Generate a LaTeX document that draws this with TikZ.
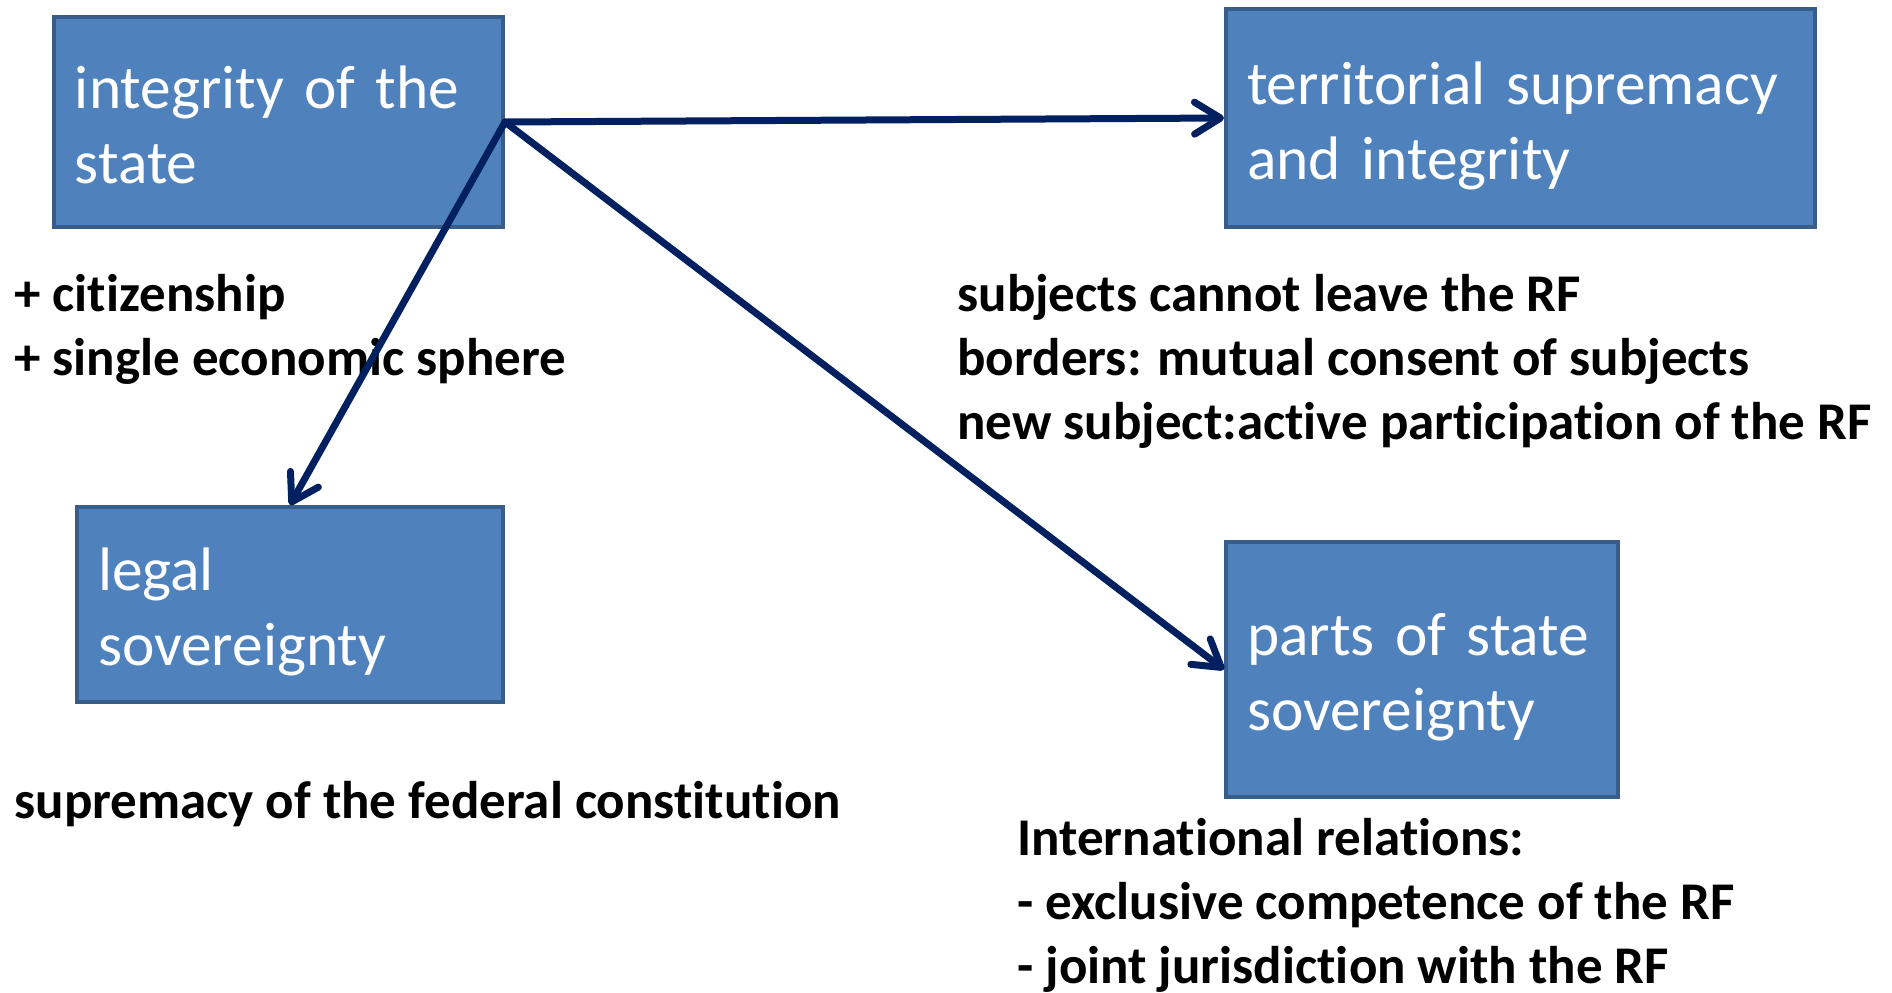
\documentclass[tikz,border=0pt]{standalone}
\usepackage{fontspec}
\setmainfont{Carlito}[Ligatures=CommonOff]
\usepackage{xcolor}
\usetikzlibrary{arrows.meta,positioning}

\definecolor{boxblue}{HTML}{4F81BD}
\definecolor{boxline}{HTML}{385D8A}
\definecolor{arrownavy}{HTML}{002060}
\newcommand{\boxstrut}{\rule[-6.5pt]{0pt}{36.5pt}}

\begin{document}
\begin{tikzpicture}[
	%	style def
    x=0.5pt, y=-0.5pt,
    topic box/.style={rectangle, draw=boxline, fill=boxblue, line width=2pt,
        anchor=north west, inner xsep=10.5pt, inner ysep=0pt, align=left,
        text=white, font=\fontsize{30.7}{37.5}\selectfont},
    note text/.style={anchor=base west, inner sep=0pt, align=left,
        font=\bfseries\fontsize{26.5}{32}\selectfont},
    link arrow/.style={draw=arrownavy, line width=3.5pt, line cap=round, line join=round,
        -{Straight Barb[length=13pt,width=16pt,round]}}
    ]
    \useasboundingbox (0,0) rectangle (1892,992);

	% the four blue boxes
    \node[topic box, text width=203.5pt, minimum height=105pt] (integrity) at (52,15)
        {\boxstrut integrity of the\\\boxstrut state};
    \node[topic box, text width=273.5pt, minimum height=109pt] (territorial) at (1224,7)
        {\boxstrut territorial supremacy\\\boxstrut and integrity};
    \node[topic box, text width=192pt, minimum height=97.5pt] (legal) at (75,505)
        {\boxstrut legal\\\boxstrut sovereignty};
    \node[topic box, text width=175pt, minimum height=127.5pt] (parts) at (1224,540)
        {\boxstrut parts of state\\\boxstrut sovereignty};

	% notes under the boxes (placed by the baseline of their last line)
    \node[note text] (integritynote) at (14,375)
        {+ citizenship\\+ single economic sphere};
    \node[note text] (territorialnote) at (957,439)
        {subjects cannot leave the RF\\borders: mutual consent of subjects\\new subject:active participation of the RF};
    \node[note text] (legalnote) at (14,818)
        {supremacy of the federal constitution};
    \node[note text] (partsnote) at (1017,983)
        {International relations:\\- exclusive competence of the RF\\- joint jurisdiction with the RF};

	% connections
    \draw[link arrow] (integrity.east) -- (territorial.west);
    \draw[link arrow] (integrity.east) -- (legal.north);
    \draw[link arrow] (integrity.east) -- (parts.west);
\end{tikzpicture}
\end{document}
